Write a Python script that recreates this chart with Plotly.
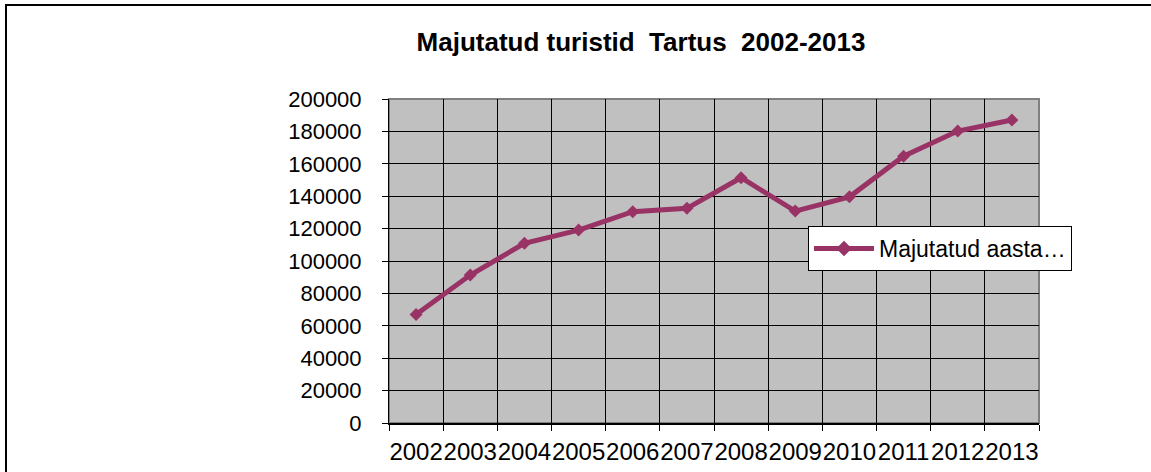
import plotly.graph_objects as go

years = ["2002", "2003", "2004", "2005", "2006", "2007", "2008", "2009", "2010", "2011", "2012", "2013"]
tourists = [67000, 91300, 110900, 119100, 130400, 132500, 151400, 130800, 139600, 164700, 180200, 187000]
series_name = "Majutatud aasta…"
title_text = "Majutatud turistid  Tartus  2002-2013"

W, H = 1151, 472
L, R, T, B = 389, 1039, 99, 423
pw, ph = R - L, B - T

def px_x(x):
    return (x - L) / pw

def px_y(y):
    return (B - y) / ph

FONT = "Liberation Sans, Arial, sans-serif"
COLOR = "#993366"

fig = go.Figure()
fig.add_trace(go.Scatter(
    x=years, y=tourists, name=series_name, mode="lines+markers",
    line=dict(color=COLOR, width=5),
    marker=dict(symbol="diamond", size=10, color=COLOR),
))

fig.update_layout(
    width=W, height=H,
    margin=dict(l=L, r=W - R, t=T, b=H - B, autoexpand=False),
    paper_bgcolor="white", plot_bgcolor="#C0C0C0",
    font=dict(family=FONT, color="black"),
    title=dict(text=title_text, font=dict(size=26, family=FONT, color="black", weight="bold"),
               xref="container", x=641 / W, xanchor="center",
               yref="container", y=1 - 42 / H, yanchor="middle"),
    showlegend=True,
    legend=dict(x=px_x(808), y=px_y(226), xanchor="left", yanchor="top",
                bgcolor="white", bordercolor="black", borderwidth=1,
                font=dict(size=23, family=FONT, color="black"),
                itemwidth=60, itemsizing="constant"),
    xaxis=dict(type="category", tickson="boundaries", showgrid=True, gridcolor="black", gridwidth=1,
               ticks="outside", ticklen=6, tickcolor="black", tickwidth=1,
               showline=True, linecolor="black", linewidth=2, tickangle=0,
               ticklabelstandoff=6,
               tickfont=dict(size=24, family=FONT, color="black"),
               range=[-0.5, len(years) - 0.5], fixedrange=True),
    yaxis=dict(range=[0, 200000], dtick=20000, tickformat="d", showgrid=True,
               gridcolor="black", gridwidth=1, zeroline=False,
               ticks="outside", ticklen=6, tickcolor="black", tickwidth=1,
               showline=True, linecolor="black", linewidth=1,
               ticklabelstandoff=16,
               tickfont=dict(size=22, family=FONT, color="black"), fixedrange=True),
    shapes=[
        dict(type="rect", xref="paper", yref="paper", x0=0, x1=1, y0=0, y1=1,
             line=dict(color="#808080", width=2), layer="below"),
        dict(type="rect", xref="paper", yref="paper",
             x0=px_x(6), x1=px_x(1300), y0=px_y(600), y1=px_y(5),
             line=dict(color="black", width=2)),
    ],
)

fig.write_html("out.html", config={"displayModeBar": False},
               post_script="document.body.style.margin='0';document.body.style.overflow='hidden';")
